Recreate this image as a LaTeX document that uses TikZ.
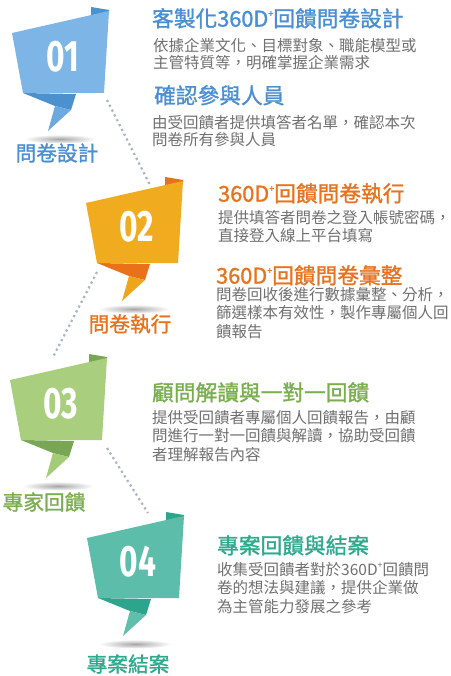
\documentclass[tikz,border=0pt]{standalone}
\usepackage{fontspec}
\setmainfont{Noto Sans CJK TC}
\newfontfamily\ttlfont{Noto Sans CJK TC}[FakeBold=1.3]
\newfontfamily\numfont{Fira Sans}
\definecolor{bfront}{HTML}{7DB6E6}
\definecolor{bdark}{HTML}{4B91CD}
\definecolor{btail}{HTML}{6CA9DE}
\definecolor{btext}{HTML}{4A8FD3}
\definecolor{ofront}{HTML}{F0AC1E}
\definecolor{odark}{HTML}{E97119}
\definecolor{otail}{HTML}{EEA51C}
\definecolor{otext}{HTML}{E8731E}
\definecolor{gfront}{HTML}{A8CE7E}
\definecolor{gdark}{HTML}{78A655}
\definecolor{gtail}{HTML}{A3CB78}
\definecolor{gtext}{HTML}{7AAE4F}
\definecolor{tfront}{HTML}{5CBEAA}
\definecolor{tdark}{HTML}{2CA58C}
\definecolor{ttail}{HTML}{5FBFAA}
\definecolor{ttext}{HTML}{2DAA8E}
\definecolor{bodygray}{HTML}{707070}
\definecolor{dotgray}{HTML}{A8B5C2}
\newcommand{\dplus}{\raisebox{0.45em}{\fontsize{9}{9}\selectfont +}}
\begin{document}
\begin{tikzpicture}[x=1pt,y=-1pt,
  ttl/.style={anchor=north west, inner sep=0pt, font=\fontsize{21.7}{24}\ttlfont},
  body/.style={anchor=north west, inner sep=0pt, align=left, text=bodygray, font=\fontsize{15.5}{18.5}\selectfont},
  lbl/.style={inner sep=0pt, font=\fontsize{20.7}{22}\ttlfont},
  numtext/.style={text=white, inner sep=0pt, font=\fontsize{44}{44}\selectfont\numfont\bfseries},
  dots/.style={draw=dotgray, line width=2.2pt, dash pattern=on 2.2pt off 3.2pt},
  pics/ribbon/.style n args={4}{code={
    \shade[inner color=black!35, outer color=white] (48,106) ellipse (36 and 4.5);
    \fill[#2] (79,-26) -- (97,-23) -- (97,-21) -- (79,-17) -- cycle;
    \fill[#2] (11,60) -- (64,61) -- (59,77) -- (43,73) -- cycle;
    \fill[#3] (43,73) -- (59,77) -- (36,98) -- cycle;
    \fill[#1] (0,0) -- (97,-22) -- (92,60) -- (11,60) -- cycle;
    \node[numtext] (-num) at (51,24) {\scalebox{0.72}[1]{#4}};
  }}
]
\useasboundingbox[fill=white] (0,0) rectangle (450,676);

% dotted connectors
\coordinate (d1a) at (107,100);
\coordinate (d1b) at (150,185);
\coordinate (d2a) at (97,272);
\coordinate (d2b) at (53,357);
\coordinate (d3a) at (107,448);
\coordinate (d3b) at (148,513);
\draw[dots] (d1a) -- (d1b);
\draw[dots] (d2a) -- (d2b);
\draw[dots] (d3a) -- (d3b);

% ribbons
\pic (s1) at (12,33) {ribbon={bfront}{bdark}{btail}{01}};
\pic (s2) at (86,203) {ribbon={ofront}{odark}{otail}{02}};
\pic (s3) at (10,380) {ribbon={gfront}{gdark}{gtail}{03}};
\pic (s4) at (87,538) {ribbon={tfront}{tdark}{ttail}{04}};

% labels
\node[lbl, text=btext] (l1) at (57,153) {問卷設計};
\node[lbl, text=otext] (l2) at (130,324) {問卷執行};
\node[lbl, text=gtext] (l3) at (44,502) {專家回饋};
\node[lbl, text=ttext] (l4) at (128,664) {專案結案};

% block 1
\node[ttl, text=btext] (t1a) at (152,8) {客製化360D\dplus 回饋問卷設計};
\node[body, font=\fontsize{15.5}{17}\selectfont] (b1a) at (153,38) {依據企業文化、目標對象、職能模型或\\主管特質等，明確掌握企業需求};
\node[ttl, text=btext] (t1b) at (154,85) {確認參與人員};
\node[body, font=\fontsize{15.5}{17}\selectfont] (b1b) at (152,115) {由受回饋者提供填答者名單，確認本次\\問卷所有參與人員};

% block 2
\node[ttl, text=otext] (t2a) at (218,183) {360D\dplus 回饋問卷執行};
\node[body] (b2a) at (218,210) {提供填答者問卷之登入帳號密碼，\\直接登入線上平台填寫};
\node[ttl, text=otext] (t2b) at (216,265) {360D\dplus 回饋問卷彙整};
\node[body] (b2b) at (216,287) {問卷回收後進行數據彙整、分析，\\篩選樣本有效性，製作專屬個人回\\饋報告};

% block 3
\node[ttl, text=gtext] (t3) at (152,382) {顧問解讀與一對一回饋};
\node[body] (b3) at (152,410) {提供受回饋者專屬個人回饋報告，由顧\\問進行一對一回饋與解讀，協助受回饋\\者理解報告內容};

% block 4
\node[ttl, text=ttext] (t4) at (217,535) {專案回饋與結案};
\node[body] (b4) at (217,562) {收集受回饋者對於360D\dplus 回饋問\\卷的想法與建議，提供企業做\\為主管能力發展之參考};
\end{tikzpicture}
\end{document}
